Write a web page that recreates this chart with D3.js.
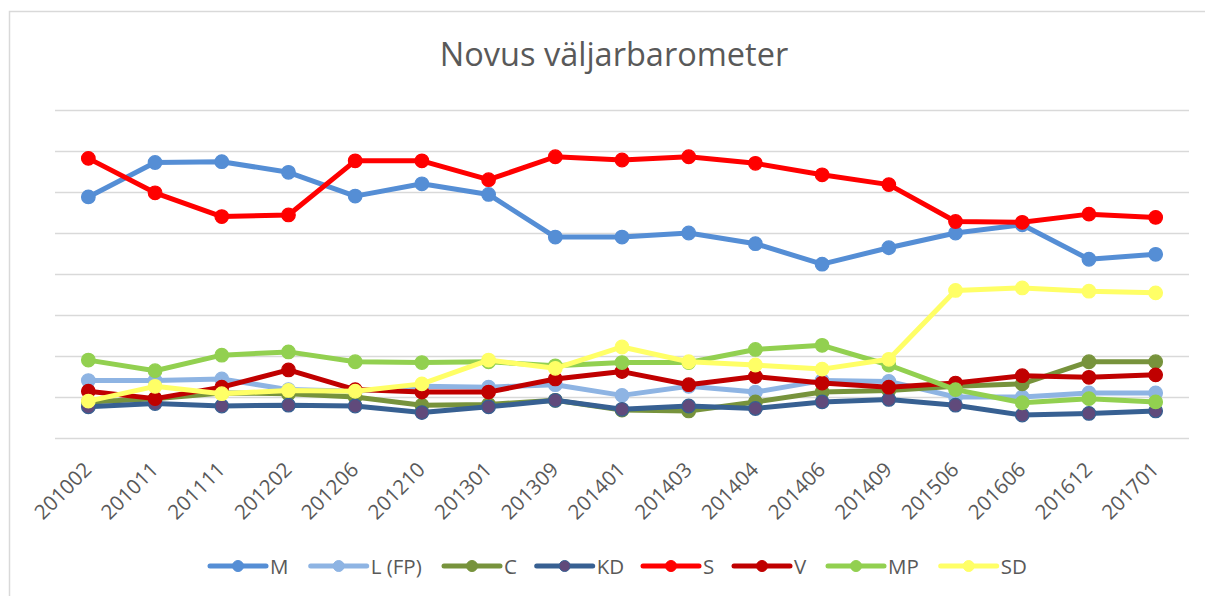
<!DOCTYPE html>
<html>
<head>
<meta charset="utf-8">
<script src="https://cdn.jsdelivr.net/npm/d3@7"></script>
<style>
html,body{margin:0;padding:0;background:#fff;}
svg{display:block;}
text{font-family:"Open Sans",sans-serif;fill:#595959;}
</style>
</head>
<body>
<svg id="chart" width="1205" height="596"></svg>
<script>
const categories = ["201002","201011","201111","201202","201206","201210","201301","201309","201401","201403","201404","201406","201409","201506","201606","201612","201701"];
const seriesNames = ["M","L (FP)","C","KD","S","V","MP","SD"];
const M  = [29.4,33.6,33.7,32.4,29.5,31.0,29.7,24.5,24.5,25.0,23.7,21.2,23.2,25.0,26.0,21.8,22.4];
const L  = [7.0,7.0,7.2,5.9,5.7,6.3,6.2,6.5,5.2,6.3,5.6,7.0,6.9,5.0,5.0,5.5,5.5];
const C  = [4.4,4.8,5.5,5.4,5.0,4.0,4.1,4.6,3.4,3.3,4.4,5.6,5.8,6.3,6.6,9.3,9.3];
const KD = [3.8,4.2,3.9,4.0,3.9,3.1,3.8,4.6,3.5,3.9,3.6,4.4,4.7,4.0,2.8,3.0,3.3];
const S  = [34.1,29.9,27.0,27.2,33.8,33.8,31.5,34.3,33.9,34.3,33.5,32.1,30.9,26.4,26.3,27.3,26.9];
const V  = [5.7,4.8,6.2,8.3,5.9,5.6,5.6,7.2,8.1,6.5,7.5,6.7,6.2,6.7,7.6,7.4,7.7];
const MP = [9.5,8.2,10.1,10.5,9.3,9.2,9.3,8.8,9.2,9.2,10.8,11.3,8.9,5.9,4.3,4.8,4.4];
const SD = [4.5,6.3,5.4,5.8,5.7,6.6,9.5,8.5,11.1,9.3,8.9,8.4,9.6,18.0,18.3,17.9,17.7];
const yTicks = [0,5,10,15,20,25,30,35,40];
const title = "Novus väljarbarometer";

const seriesValues = [M, L, C, KD, S, V, MP, SD];
const lineColors   = ["#558ed5","#8eb4e3","#77933c","#376092","#ff0000","#c00000","#92d050","#ffff66"];
const markerFills  = ["#558ed5","#8eb4e3","#77933c","#604a7b","#ff0000","#c00000","#92d050","#ffff66"];

const svg = d3.select("#chart");

// outer chart border
svg.append("rect").attr("x",9.5).attr("y",11.5).attr("width",1205).attr("height",600)
  .attr("fill","none").attr("stroke","#d9d9d9").attr("stroke-width",1.5);

const x = d3.scalePoint().domain(categories).range([55,1189]).padding(0.5);
const y = d3.scaleLinear().domain([0,40]).range([438,110]);

// gridlines
const grid = svg.append("g")
  .call(d3.axisLeft(y).tickValues(yTicks).tickSize(-(1189-55)).tickFormat(""))
  .attr("transform","translate(55,0)");
grid.select(".domain").remove();
grid.selectAll(".tick line").attr("stroke","#d9d9d9").attr("stroke-width",1.5);

// x axis labels
const xa = svg.append("g").attr("transform","translate(0,438)")
  .call(d3.axisBottom(x).tickSize(0));
xa.select(".domain").remove();
xa.selectAll(".tick text")
  .attr("font-size","20.5px")
  .attr("fill","#595959")
  .style("font-family","'Open Sans',sans-serif")
  .attr("text-anchor","end")
  .attr("dy",null).attr("y",null)
  .attr("transform","translate(4,33) rotate(-45)");

// title
svg.append("text").attr("x",614).attr("y",66).attr("text-anchor","middle")
  .attr("font-size","32.5px").text(title);

// series
const line = d3.line().x((d,i)=>x(categories[i])).y(d=>y(d));
seriesNames.forEach((name,si)=>{
  const g = svg.append("g");
  g.append("path").datum(seriesValues[si]).attr("d",line)
    .attr("fill","none").attr("stroke",lineColors[si]).attr("stroke-width",5)
    .attr("stroke-linejoin","round").attr("stroke-linecap","round");
  g.selectAll("circle").data(seriesValues[si]).join("circle")
    .attr("cx",(d,i)=>x(categories[i])).attr("cy",d=>y(d)).attr("r",6.8)
    .attr("fill",markerFills[si]).attr("stroke",lineColors[si]).attr("stroke-width",1.2);
});

// legend
const legendX = [210,310.7,444,536.7,643,734,828,940.7];
const legend = svg.append("g");
seriesNames.forEach((name,si)=>{
  const lg = legend.append("g").attr("transform",`translate(${legendX[si]},566)`);
  lg.append("line").attr("x1",0).attr("x2",56).attr("y1",0).attr("y2",0)
    .attr("stroke",lineColors[si]).attr("stroke-width",5).attr("stroke-linecap","round");
  lg.append("circle").attr("cx",28).attr("cy",0).attr("r",5.5)
    .attr("fill",markerFills[si]).attr("stroke",lineColors[si]).attr("stroke-width",1);
  lg.append("text").attr("x",60).attr("y",7.5).attr("font-size","20.5px").text(name);
});
</script>
</body>
</html>
